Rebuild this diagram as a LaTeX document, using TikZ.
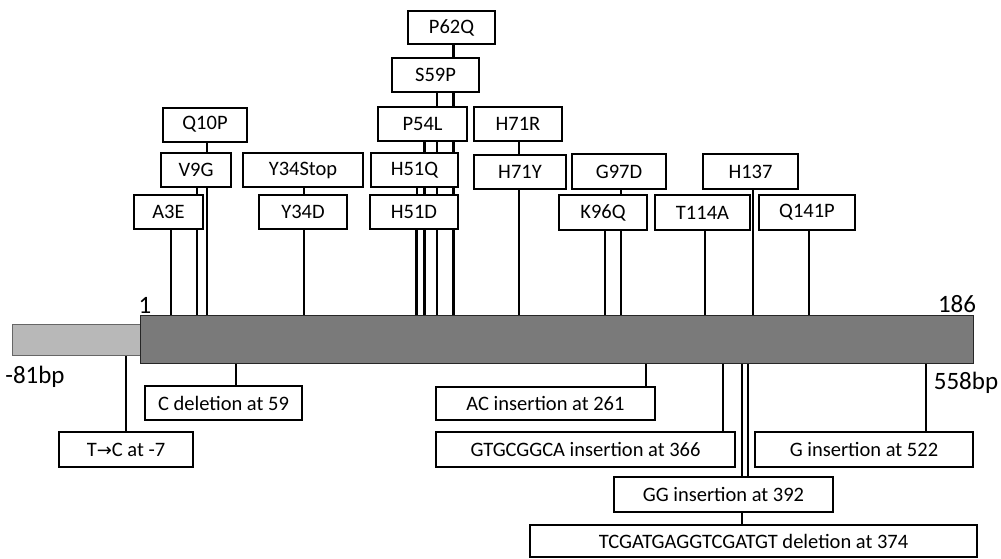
\documentclass[tikz,border=0pt]{standalone}
\usepackage{fontspec}
\setmainfont{Carlito}
\newfontfamily\arrowfont{DejaVu Sans}
\usetikzlibrary{backgrounds}
\begin{document}
\begin{tikzpicture}[x=1pt,y=-1pt,
  mbox/.style={draw=black, line width=2pt, fill=white, inner sep=0pt,
    minimum height=34pt, font=\fontsize{20.5}{20.5}\selectfont},
  stem/.style={draw=black, line width=2.2pt},
  endlabel/.style={inner sep=0pt, font=\fontsize{25}{25}\selectfont},
  mainbar/.style={draw=black!85, line width=1pt, fill=black!52, inner sep=0pt},
  utrbar/.style={draw=black!60, line width=0.8pt, fill=black!28, inner sep=0pt}]
\useasboundingbox (0,0) rectangle (1001,558);
% bars
\node[utrbar, minimum width=128pt, minimum height=31pt] (utr) at (76,339.5) {};
\node[mainbar, minimum width=833pt, minimum height=48pt] (bar) at (556.5,339) {};
% end labels
\node[endlabel] (l1) at (145,305) {1};
\node[endlabel] (l186) at (957,304) {186};
\node[endlabel] (lm81) at (35,377) {-81bp};
\node[endlabel] (l558) at (966,383) {558bp};
% upper boxes
\node[mbox, minimum width=84pt] (q10p) at (205,124.5) {Q10P};
\node[mbox, minimum width=70pt] (v9g) at (196,170) {V9G};
\node[mbox, minimum width=69pt] (a3e) at (168.5,212) {A3E};
\node[mbox, minimum width=120pt] (y34s) at (303,170) {Y34Stop};
\node[mbox, minimum width=88pt] (y34d) at (303,212) {Y34D};
\node[mbox, minimum width=87pt, minimum height=33pt] (p62q) at (451.5,27.5) {P62Q};
\node[mbox, minimum width=87pt] (s59p) at (435.5,75) {S59P};
\node[mbox, minimum width=89pt] (p54l) at (422.5,124) {P54L};
\node[mbox, minimum width=87pt] (h51q) at (414.5,170) {H51Q};
\node[mbox, minimum width=88pt] (h51d) at (414,212) {H51D};
\node[mbox, minimum width=88pt] (h71r) at (518,124) {H71R};
\node[mbox, minimum width=92pt] (h71y) at (520,172) {H71Y};
\node[mbox, minimum width=94pt, minimum height=35pt] (g97d) at (619,171.5) {G97D};
\node[mbox, minimum width=88pt, minimum height=35pt] (k96q) at (603,212.5) {K96Q};
\node[mbox, minimum width=95pt, minimum height=35pt] (t114a) at (702.5,212.5) {T114A};
\node[mbox, minimum width=95pt, minimum height=35pt] (h137) at (750.5,171.5) {H137};
\node[mbox, minimum width=96pt, minimum height=35pt] (q141p) at (807,212.5) {Q141P};
% lower boxes
\node[mbox, minimum width=157pt] (cdel) at (223.5,403) {C deletion at 59};
\node[mbox, minimum width=134pt, minimum height=35pt] (tc) at (126,449.5) {T{\arrowfont\fontsize{18}{18}\selectfont →}C at -7};
\node[mbox, minimum width=219pt, minimum height=33pt] (ac) at (545.5,403.5) {AC insertion at 261};
\node[mbox, minimum width=299pt, minimum height=35pt] (gtg) at (585.5,449.5) {GTGCGGCA insertion at 366};
\node[mbox, minimum width=218pt, minimum height=35pt] (g522) at (864,449.5) {G insertion at 522};
\node[mbox, minimum width=219pt, minimum height=35pt] (gg) at (723.5,494.5) {GG insertion at 392};
\node[mbox, minimum width=447pt, minimum height=32pt] (tcg) at (753.5,541) {TCGATGAGGTCGATGT deletion at 374};
% stem positions
\coordinate (xA3E) at (171,0);
\coordinate (xV9G) at (197,0);
\coordinate (xQ10P) at (207,0);
\coordinate (xY34) at (304,0);
\coordinate (xH51D) at (416,0);
\coordinate (xH51Q) at (417,0);
\coordinate (xP54L) at (424.5,0);
\coordinate (xS59P) at (437,0);
\coordinate (xP62Q) at (453.5,0);
\coordinate (xH71) at (519,0);
\coordinate (xK96Q) at (605,0);
\coordinate (xG97D) at (621,0);
\coordinate (xT114A) at (705,0);
\coordinate (xH137) at (753,0);
\coordinate (xQ141P) at (809,0);
\coordinate (xTC) at (126,0);
\coordinate (xCdel) at (236,0);
\coordinate (xAC) at (646,0);
\coordinate (xGTG) at (723,0);
\coordinate (xTCG) at (742,0);
\coordinate (xGG) at (748,0);
\coordinate (xG522) at (926,0);
\begin{scope}[on background layer]
\draw[stem] (a3e.south -| xA3E) -- (bar.north -| xA3E);
\draw[stem] (v9g.south -| xV9G) -- (bar.north -| xV9G);
\draw[stem] (q10p.south -| xQ10P) -- (bar.north -| xQ10P);
\draw[stem] (y34s.south -| xY34) -- (bar.north -| xY34);
\draw[stem] (h51d.south -| xH51D) -- (bar.north -| xH51D);
\draw[stem] (h51q.south -| xH51Q) -- (bar.north -| xH51Q);
\draw[stem] (p54l.south -| xP54L) -- (bar.north -| xP54L);
\draw[stem] (s59p.south -| xS59P) -- (bar.north -| xS59P);
\draw[stem] (p62q.south -| xP62Q) -- (bar.north -| xP62Q);
\draw[stem] (h71r.south -| xH71) -- (bar.north -| xH71);
\draw[stem] (k96q.south -| xK96Q) -- (bar.north -| xK96Q);
\draw[stem] (g97d.south -| xG97D) -- (bar.north -| xG97D);
\draw[stem] (t114a.south -| xT114A) -- (bar.north -| xT114A);
\draw[stem] (h137.south -| xH137) -- (bar.north -| xH137);
\draw[stem] (q141p.south -| xQ141P) -- (bar.north -| xQ141P);
\draw[stem] (utr.south -| xTC) -- (tc.north -| xTC);
\draw[stem] (bar.south -| xCdel) -- (cdel.north -| xCdel);
\draw[stem] (bar.south -| xAC) -- (ac.north -| xAC);
\draw[stem] (bar.south -| xGTG) -- (gtg.north -| xGTG);
\draw[stem] (bar.south -| xTCG) -- (tcg.north -| xTCG);
\draw[stem] (bar.south -| xGG) -- (gg.north -| xGG);
\draw[stem] (bar.south -| xG522) -- (g522.north -| xG522);
\end{scope}
\end{tikzpicture}
\end{document}
